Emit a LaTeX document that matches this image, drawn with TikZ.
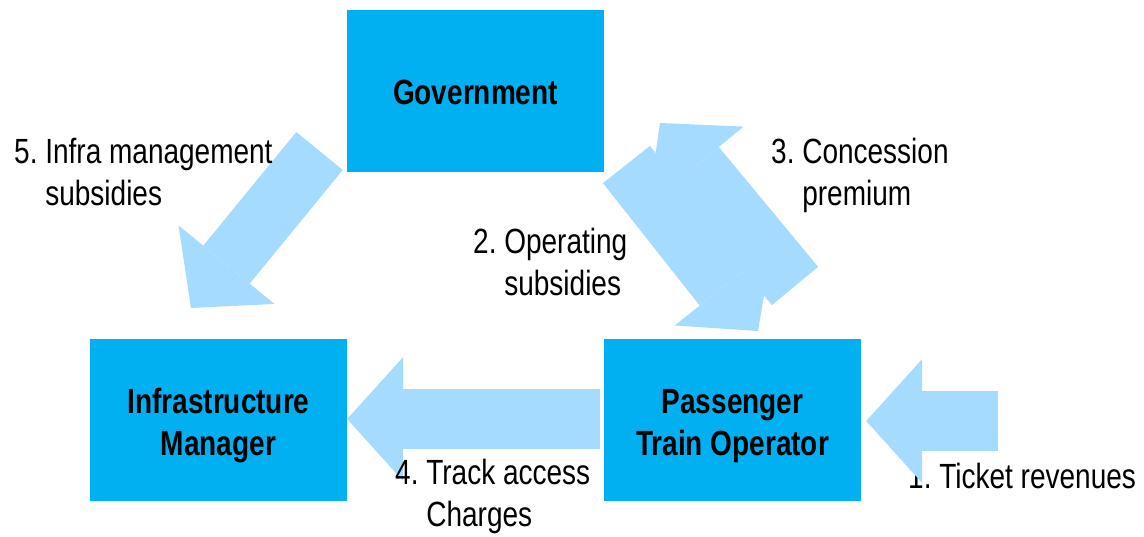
\documentclass[tikz,border=0pt]{standalone}
\usepackage{fontspec}
\setmainfont{Liberation Sans}[FakeStretch=0.8]
\usepackage{tikz}
\usetikzlibrary{arrows.meta,positioning,calc}
\definecolor{cBox}{HTML}{00B0F0}
\definecolor{cFlow}{HTML}{A5DBFF}
\tikzset{
  actor/.style ={rectangle, fill=cBox, font=\bfseries,
                 minimum width=257pt, minimum height=162pt, inner sep=0pt},
  flow/.style  ={draw=cFlow, line width=60pt,
                 -{Triangle[length=56pt,width=124pt,line width=0pt 0 0]}},
  lbl/.style   ={anchor=base west, inner sep=0pt, align=left},
}
\newcommand{\actortxt}[2][-3pt]{\raisebox{#1}[\height][\depth]{\begin{tabular}{@{}c@{}}#2\end{tabular}}}
\newcommand{\flowtxt}[3]{\begin{tabular}[t]{@{}l@{\ }l@{}}#1&#2\\&#3\end{tabular}}

\begin{document}
\fontsize{35pt}{42pt}\selectfont
\begin{tikzpicture}[x=1pt,y=-1pt]
  \useasboundingbox (0,0) rectangle (1144,536);
  \node[actor] (gov) at (475.5,91) {\actortxt[-5pt]{Government}};
  \node[actor] (im)  at (218.5,420) {\actortxt[-6pt]{Infrastructure\\Manager}};
  \node[actor] (pto) at (732.5,420) {\actortxt[-6pt]{Passenger\\Train Operator}};
  % money flows
  \coordinate (s5) at (319.5,151); \coordinate (e5) at (191,308);
  \coordinate (s2) at (626.5,164.5); \coordinate (e2) at (758,331);
  \coordinate (s3) at (795,286); \coordinate (e3) at (660,123);
  \coordinate (s1) at (998,421);
  \draw[flow](s5)--(e5);\draw[flow](s2)--(e2);\draw[flow](s3)--(e3);
  \draw[flow,shorten <=4pt]([yshift=1pt]pto.west)--([yshift=1pt]im.east);
  \node[lbl] (l5) at (14,163)  {\flowtxt{5.}{Infra management}{subsidies}};
  \node[lbl] (l2) at (473,253) {\flowtxt{2.}{Operating}{subsidies}};
  \node[lbl] (l3) at (771,163) {\flowtxt{3.}{Concession}{premium}};
  \node[lbl] (l4) at (395,484) {\flowtxt{4.}{Track access}{Charges}};
  \node[lbl] (l1) at (908,488) {1.\ Ticket revenues};
  \draw[flow,shorten >=5pt](s1)--(s1-|pto.east);
\end{tikzpicture}
\end{document}
